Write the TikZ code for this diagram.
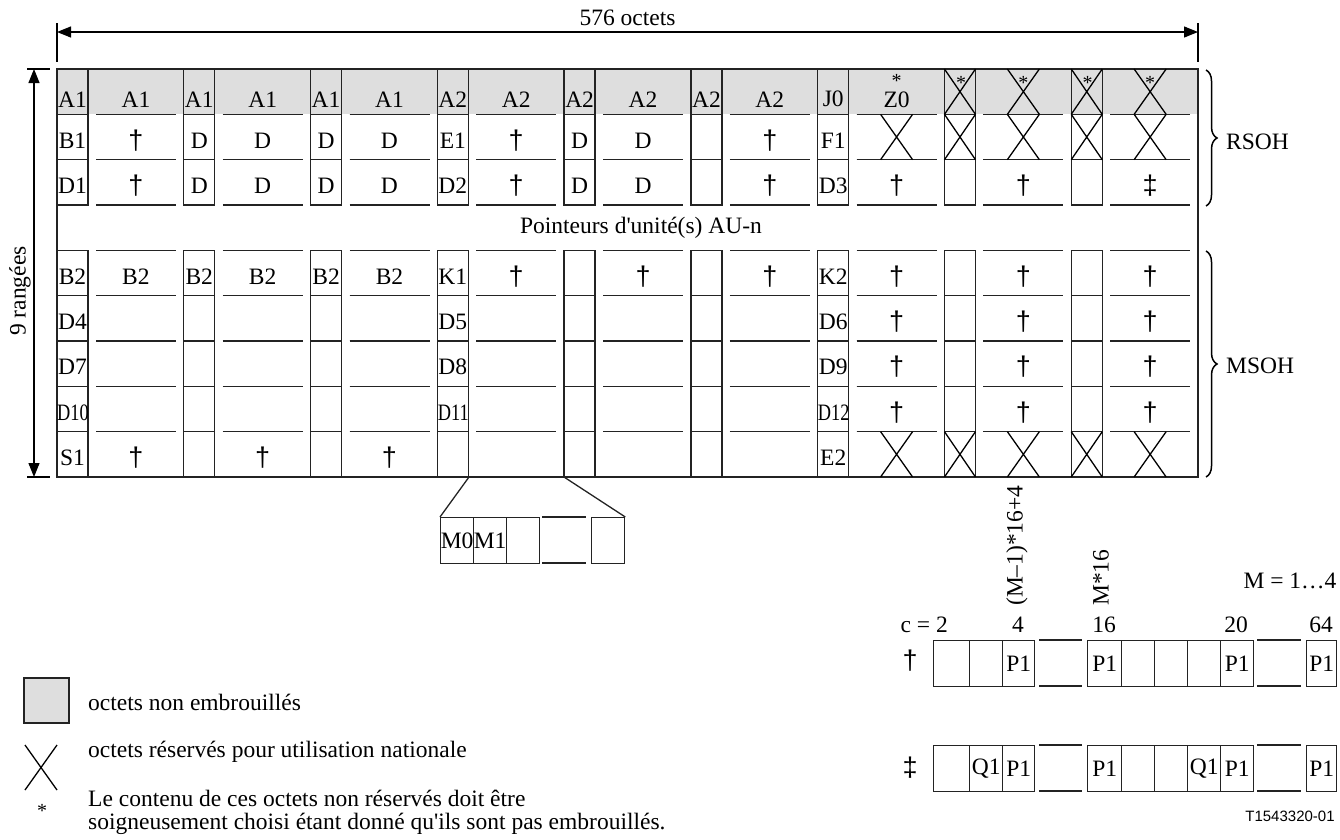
\documentclass[tikz,border=0pt]{standalone}
\usepackage{fontspec}
\setmainfont{Liberation Serif}[Ligatures=TeXOff]
\newfontfamily\refsans{Liberation Sans}
\usepackage{graphicx}
\usetikzlibrary{
  arrows.meta,
  calc,
  decorations.pathreplacing
}
\definecolor{fillNE}{RGB}{222, 222, 222}
\definecolor{lineclr}{RGB}{35, 35, 35}
\newcommand{\dg}{{\refsans\fontsize{27}{30}\selectfont †}}
\newcommand{\ddg}{{\refsans\fontsize{27}{30}\selectfont ‡}}
\tikzset{
  % Lignes du tableau
  gridline/.style  = {line width=1.3pt, draw=lineclr},
  crossline/.style = {line width=1.3pt, draw=black},
  % Cotes
  dimline/.style   = {{Triangle[length=14pt,width=11pt]}-{Triangle[length=14pt,width=11pt]}, line width=1.2pt},
  tickline/.style  = {line width=1.2pt},
  % Accolades
  brc/.style       = {decorate, decoration={brace, amplitude=11pt}, line width=1.5pt},
  % Textes
  lab/.style       = {font=\fontsize{23.5}{27}\selectfont, inner sep=0pt},
  cell/.style      = {font=\fontsize{23.5}{27}\selectfont, inner sep=0pt},
  star/.style      = {font=\fontsize{20}{22}\selectfont, inner sep=0pt},
  tag/.style       = {font=\refsans\fontsize{15}{18}\selectfont, inner sep=0pt},
  % Octets isoles
  octbox/.style    = {draw=lineclr, line width=1.3pt, minimum width=33pt, minimum height=46pt,
                      inner sep=0pt, anchor=north west, font=\fontsize{23.5}{27}\selectfont},
}

\begin{document}
\begin{tikzpicture}[x=1pt, y=-1pt]
  \useasboundingbox (0,0) rectangle (1340,839);
  % octets non embrouilles
  \fill[fillNE] (57,69) rectangle (1198,114);
  % colonnes etroites (cadres) et larges (traits)
  \foreach \r in {0,1,2,4,5,6,7,8} {
    \foreach \i in {0,...,8} {
      \pgfmathsetmacro\xa{57+126.78*\i}
      \pgfmathsetmacro\ya{69+45.33*\r}
      \draw[gridline] (\xa,\ya) rectangle ++(31,45.33);
      \draw[gridline] (\xa+39,\ya) -- ++(80,0) (\xa+39,\ya+45.33) -- ++(80,0);
    }
  }
  \draw[gridline] (57,69) rectangle (1198,477);

  % octets reserves (croix)
  \foreach \r/\i in {0/7,0/8,1/7,1/8,8/7,8/8} {
    \pgfmathsetmacro\xa{57+126.78*\i}
    \pgfmathsetmacro\ya{69+45.33*\r}
    \draw[crossline] (\xa,\ya) -- ++(31,45.33) (\xa+31,\ya) -- ++(-31,45.33);
  }
  \foreach \r/\i in {0/7,0/8,1/6,1/7,1/8,8/6,8/7,8/8} {
    \pgfmathsetmacro\xc{135.9+126.78*\i}
    \pgfmathsetmacro\ya{69+45.33*\r}
    \draw[crossline] (\xc-16,\ya) -- ++(32,45.33) (\xc+16,\ya) -- ++(-32,45.33);
  }

  % rangee 1
  \foreach \i/\a/\b in {0/A1/A1,1/A1/A1,2/A1/A1,3/A2/A2,4/A2/A2,5/A2/A2}
    \node[cell] (n0-\i) at (72.5+126.78*\i,100) {\a}
      node[cell] (w0-\i) at (135.9+126.78*\i,100) {\b};
  \node[cell] (n0-6) at (833.2,99) {J0};
  \node[cell] (w0-6) at (896.6,100) {Z0};
  \node[star] (s0-6) at (896.6,81) {*};
  \node[star] (s0-7) at (961.0,83) {*};
  \node[star] (s1-7) at (1023.4,83) {*};
  \node[star] (s0-8) at (1087.7,83) {*};
  \node[star] (s1-8) at (1150.1,83) {*};

  % rangees 2 et 3
  \foreach \i/\a in {0/B1,1/D,2/D,3/E1,4/D,6/F1}
    \node[cell] (n1-\i) at (72.5+126.78*\i,140.5) {\a};
  \foreach \i/\b in {0/\dg,1/D,2/D,3/\dg,4/D,5/\dg}
    \node[cell] (w1-\i) at (135.9+126.78*\i,140.5) {\b};
  \foreach \i/\a in {0/D1,1/D,2/D,3/D2,4/D,6/D3}
    \node[cell] (n2-\i) at (72.5+126.78*\i,186) {\a};
  \foreach \i/\b in {0/\dg,1/D,2/D,3/\dg,4/D,5/\dg,6/\dg,7/\dg,8/\ddg}
    \node[cell] (w2-\i) at (135.9+126.78*\i,186) {\b};

  \node[lab] (ptr) at (641,228) {Pointeurs d'unité(s) AU-n};

  % rangees 5 a 9
  \foreach \i/\a in {0/B2,1/B2,2/B2,3/K1,6/K2}
    \node[cell] (n4-\i) at (72.5+126.78*\i,276.5) {\a};
  \foreach \i/\b in {0/B2,1/B2,2/B2,3/\dg,4/\dg,5/\dg,6/\dg,7/\dg,8/\dg}
    \node[cell] (w4-\i) at (135.9+126.78*\i,276.5) {\b};
  \foreach \r/\y/\a/\b/\c in {5/322/D4/D5/D6, 6/367/D7/D8/D9} {
    \node[cell] (n\r-0) at (72.5,\y) {\a};
    \node[cell] (n\r-3) at (452.8,\y) {\b};
    \node[cell] (n\r-6) at (833.2,\y) {\c};
  }
  \node[cell] (n7-0) at (73,412.5) {\scalebox{0.78}[1]{D10}};
  \node[cell] (n7-3) at (453.3,412.5) {\scalebox{0.78}[1]{D11}};
  \node[cell] (n7-6) at (833.7,412.5) {\scalebox{0.78}[1]{D12}};
  \foreach \r/\y in {5/322,6/367,7/412.5}
    \foreach \i in {6,7,8}
      \node[cell] (w\r-\i) at (135.9+126.78*\i,\y) {\dg};
  \node[cell] (n8-0) at (72.5,458) {S1};
  \node[cell] (n8-6) at (833.2,458) {E2};
  \foreach \i in {0,1,2}
    \node[cell] (w8-\i) at (135.9+126.78*\i,458) {\dg};

  % cotes
  \coordinate (dimL) at (57,32);
  \coordinate (dimR) at (1198,32);
  \draw[tickline] (57,23) -- (57,62) (1198,23) -- (1198,62);
  \draw[dimline] (dimL) -- (dimR) node[lab, midway, above=6pt] (wid) {576 octets};
  \coordinate (dimT) at (34,69);
  \coordinate (dimB) at (34,477);
  \draw[tickline] (27,69) -- (50,69) (27,477) -- (50,477);
  \draw[dimline] (dimT) -- (dimB);
  \node[lab, rotate=90] (rows) at (20,291) {9 rangées};

  % accolades
  \draw[brc] (1206,70) -- (1206,206);
  \node[lab, anchor=west] (rsoh) at (1226,142) {RSOH};
  \draw[brc] (1206,251) -- (1206,477);
  \node[lab, anchor=west] (msoh) at (1226,366) {MSOH};

  % detail octets M0 M1 ...
  \coordinate (zl) at (469,477);
  \coordinate (zr) at (564,477);
  \node[octbox] (m0) at (440,517) {M0};
  \node[octbox] (m1) at (473,517) {M1};
  \node[octbox] (m2) at (506,517) {};
  \node[octbox] (m3) at (591,517) {};
  \draw[gridline] (542,517) -- (586,517) (542,563) -- (586,563);
  \draw[gridline] (zl) -- (m0.north west) (zr) -- (m3.north east);

  % detail colonnes P1 / Q1
  \node[lab] (mrange) at (1290,581) {M = 1…4};
  \node[lab, anchor=west, rotate=90] (cola) at (1017,606) {(M–1)*16+4};
  \node[lab, anchor=west, rotate=90] (colb) at (1101,606) {M*16};
  \node[lab, anchor=east] (c2) at (948,625) {c = 2};
  \node[lab] (c4) at (1018,625) {4};
  \node[lab] (c16) at (1104,625) {16};
  \node[lab] (c20) at (1236,625) {20};
  \node[lab] (c64) at (1321,625) {64};

  \node[lab] (dag) at (910,661) {\dg};
  \foreach \x/\w/\t [count=\k] in {933/36/,969/33/,1002/32/P1,1087/34/P1,1121/33/,1154/33/,1187/33/,1220/33/P1,1306/30/P1}
    \node[octbox, minimum width=\w pt] (pa\k) at (\x,640) {\t};
  \draw[gridline] (1039,640) -- (1082,640) (1039,686) -- (1082,686)
                  (1257,640) -- (1301,640) (1257,686) -- (1301,686);

  \node[lab] (ddag) at (910,768) {\ddg};
  \foreach \x/\w/\t [count=\k] in {933/36/,969/33/Q1,1002/32/P1,1087/34/P1,1121/33/,1154/33/,1187/33/Q1,1220/33/P1,1306/30/P1}
    \node[octbox, minimum width=\w pt] (pb\k) at (\x,745) {\t};
  \draw[gridline] (1039,745) -- (1082,745) (1039,791) -- (1082,791)
                  (1257,745) -- (1301,745) (1257,791) -- (1301,791);
  \node[tag] (ref) at (1290,816) {T1543320-01};

  % legende
  \filldraw[fill=fillNE, draw=lineclr, line width=1.3pt] (24,678) rectangle (69,723);
  \node[lab, anchor=west] (leg1) at (88,702) {octets non embrouillés};
  \draw[crossline] (25,745) -- (57,790) (57,745) -- (25,790);
  \node[lab, anchor=west] (leg2) at (88,752) {octets réservés pour utilisation nationale};
  \node[star] (leg3s) at (42,811) {*};
  \node[lab, anchor=west, align=left, font=\fontsize{23.5}{23}\selectfont] (leg3) at (88,812)
    {Le contenu de ces octets non réservés doit être\\soigneusement choisi étant donné qu'ils sont pas embrouillés.};
\end{tikzpicture}
\end{document}
